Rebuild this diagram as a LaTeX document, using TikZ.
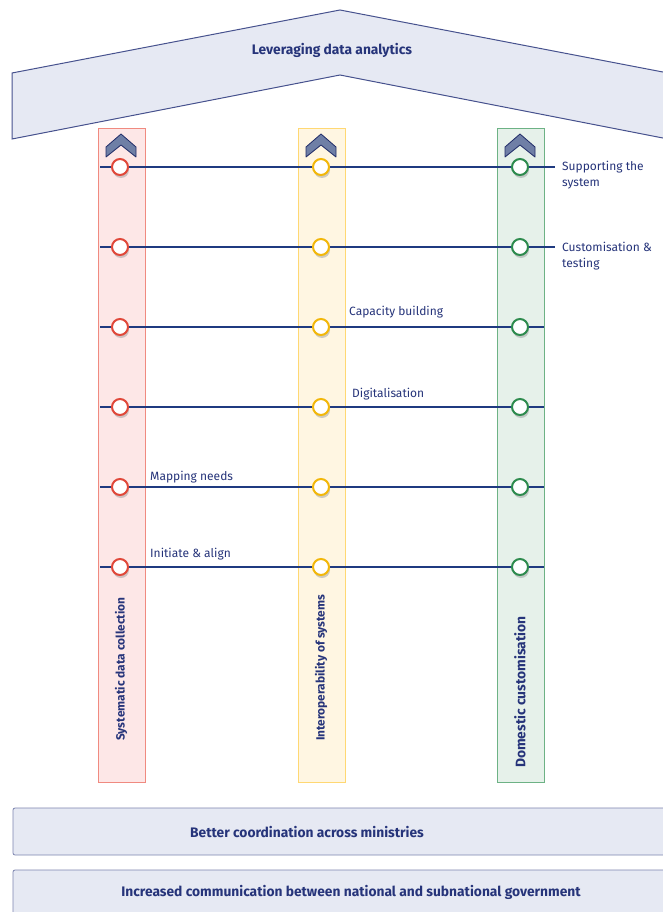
\documentclass[tikz,border=0pt]{standalone}
\usepackage{fontspec}
\setmainfont{Fira Sans}
\usetikzlibrary{shadows}
\definecolor{navy}{HTML}{26347A}
\definecolor{linenavy}{HTML}{1F3A80}
\definecolor{roof}{HTML}{E6E9F3}
\definecolor{rfill}{HTML}{FDE7E7}
\definecolor{rline}{HTML}{F08A80}
\definecolor{rcirc}{HTML}{E0483A}
\definecolor{yfill}{HTML}{FFF6E2}
\definecolor{yline}{HTML}{FFD873}
\definecolor{ycirc}{HTML}{F2B70A}
\definecolor{gfill}{HTML}{E6F1EA}
\definecolor{gline}{HTML}{6DB285}
\definecolor{gcirc}{HTML}{2E8B4E}
\definecolor{chev}{HTML}{6F7FA6}
\tikzset{
  colbox/.style={draw=#1, line width=0.9pt},
  hline/.style={draw=linenavy, line width=2.5pt},
  dot/.style={circle, fill=white, draw=#1, line width=2pt, minimum size=16pt, inner sep=0pt,
    drop shadow={shadow xshift=1pt, shadow yshift=-3pt, opacity=0.3, fill=black!60}},
  lbl/.style={text=navy, font=\fontsize{12}{16}\selectfont, inner sep=0pt},
  coltitle/.style={text=navy, font=\fontsize{11.9}{13}\selectfont\bfseries, rotate=90, inner sep=0pt},
  bartext/.style={text=navy, font=\fontsize{13.8}{15}\selectfont\bfseries, inner sep=0pt},
  bar/.style={draw=navy!60, fill=roof, line width=0.8pt, rounded corners=2pt},
  chevr/.style={draw=navy!85!black, fill=chev, line width=0.8pt, line join=round}
}
\begin{document}
\begin{tikzpicture}[x=1pt,y=-1pt]
\useasboundingbox (0,0) rectangle (663,912);
\fill[white] (0,0) rectangle (663,912);
% roof
\draw[fill=roof, draw=navy!85, line width=1pt] (12,73) -- (340,10) -- (668,73) -- (668,139) -- (340,75) -- (12,139) -- cycle;
\node[bartext] (roof) at (332,50) {Leveraging data analytics};
% columns
\draw[colbox=rline, fill=rfill] (98,128) rectangle (145,782);
\draw[colbox=yline, fill=yfill] (298,128) rectangle (345,782);
\draw[colbox=gline, fill=gfill] (497,128) rectangle (544,782);
% chevrons
\foreach \cx in {121,321,520}{
  \draw[chevr] (\cx-15,147) -- (\cx,134) -- (\cx+15,147) -- (\cx+15,157) -- (\cx,145) -- (\cx-15,157) -- cycle;
}
% column titles
\node[coltitle, anchor=west] (t1) at (121,741) {Systematic data collection};
\node[coltitle, anchor=west] (t2) at (321,741) {Interoperability of systems};
\node[coltitle, anchor=west, font=\fontsize{13.8}{15}\selectfont\bfseries] (t3) at (520,768) {Domestic customisation};
% rows
\foreach \i/\y in {1/167,2/247,3/327,4/407,5/487,6/567}{
  \coordinate (L\i) at (100,\y);
  \coordinate (R\i) at (544,\y);
}
\coordinate (E1) at (555,167);
\coordinate (E2) at (555,247);
\draw[hline] (L1) -- (E1);
\draw[hline] (L2) -- (E2);
\foreach \i in {3,4,5,6}{ \draw[hline] (L\i) -- (R\i); }
\foreach \i/\y in {1/167,2/247,3/327,4/407,5/487,6/567}{
  \node[dot=rcirc] (a\i) at (120,\y) {};
  \node[dot=ycirc] (b\i) at (321,\y) {};
  \node[dot=gcirc] (c\i) at (520,\y) {};
}
% labels
\node[lbl, anchor=base west, align=left] (s1) at (562,186) {Supporting the\\system};
\node[lbl, anchor=base west, align=left] (s2) at (562,267) {Customisation \&\\testing};
\node[lbl, anchor=base west] (s3) at (349,315) {Capacity building};
\node[lbl, anchor=base west] (s4) at (352,397) {Digitalisation};
\node[lbl, anchor=base west] (s5) at (150,480) {Mapping needs};
\node[lbl, anchor=base west] (s6) at (150,557) {Initiate \& align};
% bottom bars
\draw[bar] (13,808) rectangle (680,855);
\node[bartext] (b1) at (307,832) {Better coordination across ministries};
\draw[bar] (13,870) rectangle (680,930);
\node[bartext] (b2) at (351,892) {Increased communication between national and subnational government};
\end{tikzpicture}
\end{document}
